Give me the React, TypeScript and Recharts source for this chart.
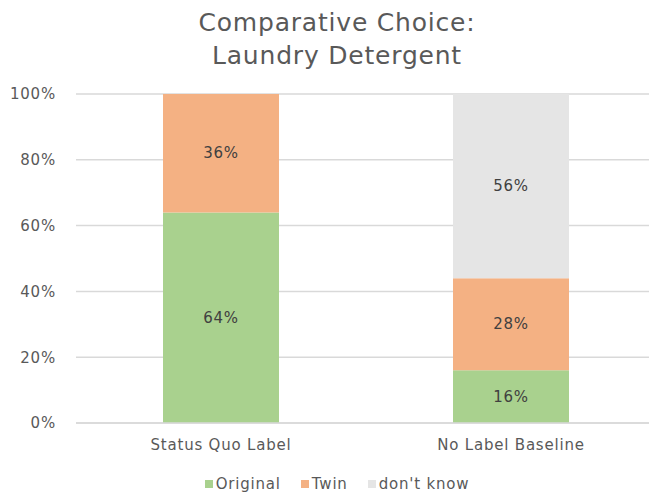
import React from 'react';
import { BarChart, Bar, XAxis, YAxis, CartesianGrid, LabelList } from 'recharts';

const categories = ['Status Quo Label', 'No Label Baseline'];
const original = [64, 16];
const twin = [36, 28];
const dontKnow = [0, 56];
const yTicks = [0, 20, 40, 60, 80, 100];

const data = categories.map((name, i) => ({
    name,
    original: original[i],
    twin: twin[i],
    dontKnow: dontKnow[i],
}));

const series = [
    { key: 'original', label: 'Original', color: '#A9D18E' },
    { key: 'twin', label: 'Twin', color: '#F4B183' },
    { key: 'dontKnow', label: "don't know", color: '#E5E5E5' },
];

const font = '"DejaVu Sans", Verdana, sans-serif';
const tickStyle = { fill: '#595959', fontSize: 15, fontFamily: font, letterSpacing: 0.8 };

const renderLabel = (props: any) => {
    const { x, y, width, height, value } = props;
    if (!value) return null;
    return (
        <text
            x={x + width / 2}
            y={y + height / 2}
            textAnchor="middle"
            dominantBaseline="central"
            fill="#404040"
            fontSize={15}
            letterSpacing={0.8}
            fontFamily={font}
        >
            {value}%
        </text>
    );
};

const App = () => {
    return (
        <div
            style={{
                position: 'absolute',
                left: 0,
                top: 0,
                width: 649,
                height: 495,
                overflow: 'hidden',
                background: '#fff',
                fontFamily: font,
            }}
        >
            <div
                style={{
                    position: 'absolute',
                    top: 6,
                    left: 0,
                    width: 674,
                    textAlign: 'center',
                    fontSize: 25,
                    letterSpacing: 0.8,
                    lineHeight: '33px',
                    color: '#595959',
                }}
            >
                Comparative Choice:
                <br />
                Laundry Detergent
            </div>
            <BarChart
                width={660}
                height={495}
                data={data}
                margin={{ top: 94, right: 4, left: 0, bottom: 42 }}
            >
                <CartesianGrid vertical={false} stroke="#D9D9D9" strokeWidth={1.5} />
                <XAxis
                    dataKey="name"
                    height={30}
                    axisLine={{ stroke: '#D9D9D9', strokeWidth: 1.5 }}
                    tickLine={false}
                    tickSize={0}
                    tickMargin={16}
                    tick={tickStyle}
                />
                <YAxis
                    width={76}
                    domain={[0, 100]}
                    ticks={yTicks}
                    axisLine={false}
                    tickLine={false}
                    tickSize={0}
                    tickMargin={20}
                    tickFormatter={(v) => `${v}%`}
                    tick={tickStyle}
                />
                {series.map((s) => (
                    <Bar
                        key={s.key}
                        dataKey={s.key}
                        stackId="a"
                        fill={s.color}
                        barSize={116}
                        isAnimationActive={false}
                    >
                        <LabelList dataKey={s.key} content={renderLabel} />
                    </Bar>
                ))}
            </BarChart>
            <div
                style={{
                    position: 'absolute',
                    top: 475,
                    left: 0,
                    width: 674,
                    display: 'flex',
                    justifyContent: 'center',
                    fontSize: 15,
                    letterSpacing: 0.8,
                    color: '#595959',
                }}
            >
                {series.map((s) => (
                    <div key={s.key} style={{ display: 'flex', alignItems: 'center', margin: '0 10px' }}>
                        <span
                            style={{
                                display: 'inline-block',
                                width: 8,
                                height: 8,
                                background: s.color,
                                marginRight: 3,
                            }}
                        />
                        {s.label}
                    </div>
                ))}
            </div>
        </div>
    );
};

export default App;
